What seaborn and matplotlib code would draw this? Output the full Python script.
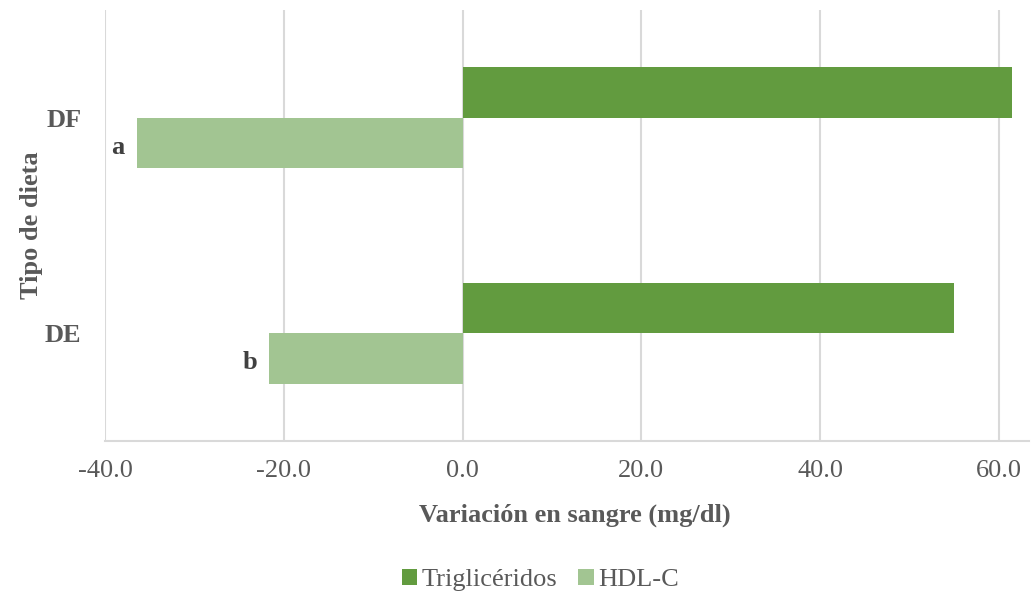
import numpy as np
import pandas as pd
import matplotlib.pyplot as plt
import seaborn as sns

# datos
dietas = ["DF", "DE"]
series = ["Triglicéridos", "HDL-C"]
trigliceridos = [61.4, 55.0]
hdl_c = [-36.4, -21.6]
letras = ["a", "b"]
xticks = [-40, -20, 0, 20, 40, 60]
xtick_labels = ["-40.0", "-20.0", "0.0", "20.0", "40.0", "60.0"]

df = pd.DataFrame({
    "dieta": dietas * 2,
    "serie": [series[0]] * 2 + [series[1]] * 2,
    "valor": trigliceridos + hdl_c,
})

sns.set_style("white")
plt.rcParams["font.family"] = ["Liberation Serif", "DejaVu Serif"]
gris = "#595959"
colores = {"Triglicéridos": "#629b3f", "HDL-C": "#a2c592"}
fs = 19

fig = plt.figure(figsize=(10.33, 5.96), dpi=100)
ax = fig.add_axes([0.1016, 0.26, 0.895, 0.723])
sns.barplot(data=df, x="valor", y="dieta", hue="serie", order=dietas,
            hue_order=series, palette=colores, orient="h", width=0.47,
            saturation=1, linewidth=0, ax=ax, zorder=3)

ax.set_xlim(-40, 63.4)
ax.set_xticks(xticks)
ax.set_xticklabels(xtick_labels)
ax.tick_params(axis="x", labelsize=fs, colors=gris, length=0, pad=14)
ax.tick_params(axis="y", labelsize=fs, colors=gris, length=0, pad=17)
for t in ax.get_yticklabels():
    t.set_fontweight("bold")
ax.grid(axis="x", color="#d9d9d9", linewidth=1.5, zorder=0)
ax.set_axisbelow(True)
for s in ["top", "right", "left"]:
    ax.spines[s].set_visible(False)
ax.spines["bottom"].set_color("#d9d9d9")
ax.spines["bottom"].set_linewidth(1.5)

ax.set_xlabel("Variación en sangre (mg/dl)", fontsize=fs, fontweight="bold",
              color=gris)
ax.xaxis.set_label_coords(0.508, -0.172)
ax.xaxis.label.set_va("center")
ax.set_ylabel("Tipo de dieta", fontsize=fs, fontweight="bold", color=gris)
ax.yaxis.set_label_coords(-0.079, 0.5)
ax.yaxis.label.set_va("center")

# letras junto a las barras de HDL-C
for bar, letra in zip(ax.containers[1], letras):
    xend = min(bar.get_x(), bar.get_x() + bar.get_width())
    yc = bar.get_y() + bar.get_height() / 2
    ax.annotate(letra, (xend, yc), xytext=(-9, -3), textcoords="offset points",
                ha="right", va="center", fontsize=fs, fontweight="bold",
                color="#404040")

handles, labels = ax.get_legend_handles_labels()
ax.get_legend().remove()
fig.legend(handles, labels, loc="center", bbox_to_anchor=(0.523, 0.027),
           ncol=2, frameon=False, fontsize=fs, handlelength=0.6,
           handleheight=0.6, handletextpad=0.15, columnspacing=0.8,
           labelcolor=gris)

fig.savefig("out.png", dpi=100)
